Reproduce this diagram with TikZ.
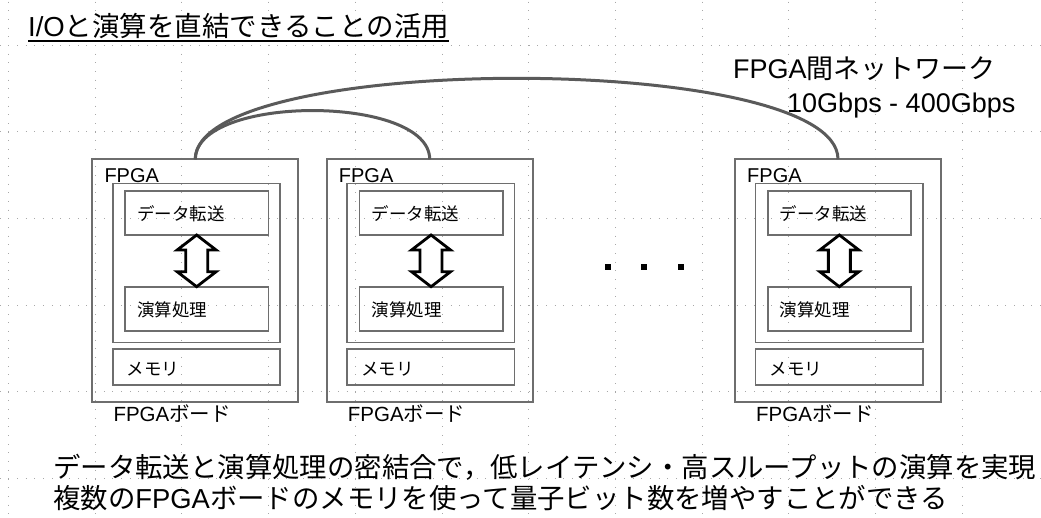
\documentclass[tikz,border=0pt]{standalone}
\usepackage{fontspec}
\setmainfont{Liberation Sans}
\newfontfamily\jp{Noto Sans CJK JP}
\usetikzlibrary{calc}
\definecolor{boxgray}{HTML}{6E6E6E}
\definecolor{netgray}{HTML}{5A5A5A}
\definecolor{gridgray}{HTML}{A8A8A8}
\tikzset{
  gridline/.style={draw=gridgray, line width=0.8pt, dash pattern=on 0.8pt off 7.87pt},
  box/.style={draw=boxgray, line width=1.6pt, inner sep=0pt, outer sep=0pt},
  board/.style={box, line width=1.8pt, minimum width=206pt, minimum height=242.4pt},
  fpgabox/.style={box, minimum width=167.3pt, minimum height=159pt},
  unitbox/.style={box, minimum width=143.3pt, minimum height=44pt},
  membox/.style={box, minimum width=167.3pt, minimum height=36pt},
  lbl/.style={inner sep=0pt, anchor=base west},
  jplbl/.style={lbl, font=\fontsize{17.5}{20}\selectfont\jp},
  net/.style={draw=netgray, line width=3pt},
  dotsq/.style={fill=black, minimum size=6pt, inner sep=0pt},
  bigarrow/.style={draw=black, fill=white, line width=2.8pt, line join=miter},
  dblarrow/.pic={\path[bigarrow] (0,-25.85) -- (19.5,-10.85) -- (11,-10.85) -- (11,10.85) -- (19.5,10.85) -- (0,25.85) -- (-19.5,10.85) -- (-11,10.85) -- (-11,-10.85) -- (-19.5,-10.85) -- cycle;}
}
\begin{document}
\begin{tikzpicture}[x=1pt,y=-1pt]
\useasboundingbox (0,0) rectangle (1041,517);
% background grid
\foreach \k in {0,...,12}{
  \draw[gridline] (8.4+86.7*\k,-41.7) -- (8.4+86.7*\k,517);
}
\foreach \k in {0,...,5}{
  \draw[gridline] (8.4-86.7,45+86.7*\k) -- (1041,45+86.7*\k);
}
% title
\node[lbl, font=\fontsize{27.5}{30}\selectfont] (title) at (28,36.5) {I/O{\jp と演算を直結できることの活用}};
\draw[line width=1.8pt] ([yshift=-4.2pt]title.base west) -- ([yshift=-4.2pt]title.base east);
% network label
\node[lbl, font=\fontsize{27}{30}\selectfont] (netlbl) at (733,78.3) {FPGA{\jp 間ネットワーク}};
\node[lbl, font=\fontsize{27}{30}\selectfont] (bw) at (787,112.7) {10Gbps - 400Gbps};
% boards
\foreach \i/\dx in {1/0,2/234.4,3/642.7}{
  \node[board] (b\i) at (195.3+\dx,280.5) {};
  \node[fpgabox] (f\i) at (196.35+\dx,262.8) {};
  \node[unitbox] (d\i) at (196.65+\dx,213) {};
  \node[unitbox] (c\i) at (196.65+\dx,308.7) {};
  \node[membox] (m\i) at (196.35+\dx,367) {};
  \node[lbl, font=\fontsize{20}{22}\selectfont] (ft\i) at (104.3+\dx,182.7) {FPGA};
  \node[jplbl] (dt\i) at (137+\dx,220) {データ転送};
  \node[jplbl] (ct\i) at (137+\dx,316.7) {演算処理};
  \node[jplbl] (mt\i) at (126.7+\dx,375) {メモリ};
  \node[lbl, font=\fontsize{20.5}{22}\selectfont] (bt\i) at (113.3+\dx,421.7) {FPGA{\jp ボード}};
  \pic (a\i) at ($(d\i.south)!0.5!(c\i.north)$) {dblarrow};
}
% network connections
\draw[net] (b1.north) .. controls +(0,-65) and +(0,-65) .. (b2.north);
\draw[net] (b1.north) .. controls +(0,-108) and +(0,-108) .. (b3.north);
% ellipsis dots
\node[dotsq] (e1) at (607.7,266.7) {};
\node[dotsq] (e2) at (644,266.7) {};
\node[dotsq] (e3) at (680.7,266.7) {};
% bottom text
\node[lbl, font=\fontsize{27.4}{31}\selectfont\jp] (s1) at (53,477) {データ転送と演算処理の密結合で，低レイテンシ・高スループットの演算を実現};
\node[lbl, font=\fontsize{27.4}{31}\selectfont\jp] (s2) at (53,508.3) {複数の{\rmfamily FPGA}ボードのメモリを使って量子ビット数を増やすことができる};
\end{tikzpicture}
\end{document}
